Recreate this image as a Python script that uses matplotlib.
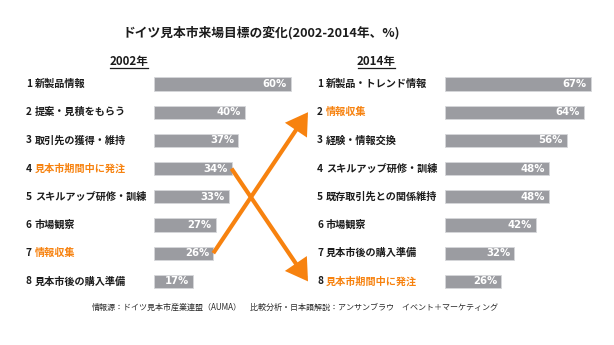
import matplotlib
matplotlib.use("Agg")
import matplotlib.pyplot as plt
from matplotlib.transforms import blended_transform_factory
from matplotlib.patches import FancyArrowPatch
from matplotlib.lines import Line2D

plt.rcParams['font.family'] = ['Noto Sans CJK JP', 'DejaVu Sans']

# ---- data ----
labels_2002 = ["新製品情報", "提案・見積をもらう", "取引先の獲得・維持", "見本市期間中に発注",
               "スキルアップ研修・訓練", "市場観察", "情報収集", "見本市後の購入準備"]
values_2002 = [60, 40, 37, 34, 33, 27, 26, 17]

labels_2014 = ["新製品・トレンド情報", "情報収集", "経験・情報交換", "スキルアップ研修・訓練",
               "既存取引先との関係維持", "市場観察", "見本市後の購入準備", "見本市期間中に発注"]
values_2014 = [67, 64, 56, 48, 48, 42, 32, 26]

highlight = ["見本市期間中に発注", "情報収集"]

title = "ドイツ見本市来場目標の変化(2002-2014年、%)"
year_left = "2002年"
year_right = "2014年"
source_text = "情報源：ドイツ見本市産業連盟（AUMA）"
credit_text = "比較分析・日本語解説：アンサンブラウ　イベント＋マーケティング"

# ---- styling ----
W, H = 614, 345
BAR = "#9b9ca1"
ORANGE = "#f7820f"
DARK = "#1c1c1c"

fig = plt.figure(figsize=(W / 100, H / 100), dpi=100)
fig.patch.set_facecolor("white")


def fx(px):
    return px / W


def fy(py):
    return 1 - py / H


row_h = 28.2
top_row = 84.0
ax_h = 8 * row_h
ax_top = top_row - row_h / 2


def make_axes(left_px, px_per_unit, width_px=150):
    ax = fig.add_axes([fx(left_px), fy(ax_top + ax_h), width_px / W, ax_h / H])
    ax.set_xlim(0, width_px / px_per_unit)
    ax.set_ylim(7.5, -0.5)
    ax.axis("off")
    return ax


ax_l = make_axes(154, 2.28)
ax_r = make_axes(444.7, 2.18)


def draw_panel(ax, labels, values, label_x_px):
    ys = list(range(len(values)))
    ax.barh(ys, values, height=0.47, color=BAR, edgecolor="#d6d7da", linewidth=0.6)
    tr = blended_transform_factory(fig.transFigure, ax.transData)
    for i, (lab, v) in enumerate(zip(labels, values)):
        ax.annotate(f"{v}%", xy=(v, i), xytext=(-3, 0), textcoords="offset points",
                    ha="right", va="center", color="white", fontsize=7.3,
                    fontweight="bold", family=["DejaVu Sans"])
        ax.text(fx(label_x_px), i, f"{i + 1}", transform=tr, ha="left", va="center",
                fontsize=7.3, fontweight="bold", color=DARK)
        ax.text(fx(label_x_px + 9), i, lab, transform=tr, ha="left", va="center",
                fontsize=7.3, fontweight="bold",
                color=ORANGE if lab in highlight else DARK)


draw_panel(ax_l, labels_2002, values_2002, 26)
draw_panel(ax_r, labels_2014, values_2014, 317)

# ---- title and year headers ----
fig.text(fx(261.5), fy(33), title, ha="center", va="center", fontsize=9.2,
         fontweight="bold", color=DARK)
for txt, cx in [(year_left, 128.5), (year_right, 376.5)]:
    fig.text(fx(cx), fy(61), txt, ha="center", va="center", fontsize=8.3,
             fontweight="bold", color=DARK)
    fig.add_artist(Line2D([fx(cx - 19), fx(cx + 19)], [fy(68), fy(68)],
                          transform=fig.transFigure, color=DARK, linewidth=0.9))

# ---- arrows showing rank changes ----
tip_x_px = 308
for lab in highlight:
    i0 = labels_2002.index(lab)
    i1 = labels_2014.index(lab)
    start = ax_l.transData.transform((values_2002[i0], i0))
    end_y = ax_r.transData.transform((0, i1))[1]
    arrow = FancyArrowPatch(
        posA=(start[0], start[1]), posB=(tip_x_px, end_y),
        transform=None, arrowstyle="-|>,head_length=7,head_width=4.3",
        color=ORANGE, linewidth=3.0, shrinkA=0, shrinkB=0,
        mutation_scale=1.6, joinstyle="miter", capstyle="butt")
    fig.add_artist(arrow)

# ---- footer ----
fig.text(fx(92), fy(307), source_text, ha="left", va="center", fontsize=5.8, color="#2a2a2a")
fig.text(fx(250), fy(307), credit_text, ha="left", va="center", fontsize=5.8, color="#2a2a2a")

fig.savefig("out.png", dpi=100, facecolor="white")
